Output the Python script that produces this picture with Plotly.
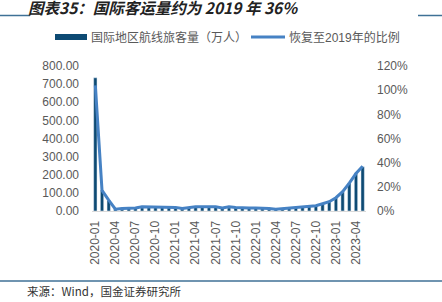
import plotly.graph_objects as go

months = [f"{y}-{m:02d}" for y in (2020, 2021, 2022, 2023) for m in range(1, 13)][:41]

passengers = [735, 115, 58, 12, 13, 15, 17, 18, 19, 20, 20, 20,
              17, 14, 18, 19, 20, 19, 21, 17, 18, 19, 18, 19,
              17, 14, 13, 11, 13, 15, 20, 24, 26, 29, 38, 51,
              72, 106, 155, 210, 244]

recovery = [104, 17, 9, 1.5, 2, 2, 2.5, 3.5, 3.5, 3.5, 3.5, 3.5,
            3, 2, 3, 3.5, 3.5, 3.5, 3.5, 2.5, 3.5, 3, 2.5, 2.5,
            2.5, 2.5, 2, 1.5, 2, 2.5, 3, 3.5, 4, 4.4, 6, 7.7,
            11, 16, 23, 31, 37]

tick_labels = months[::3]
series_names = ["国际地区航线旅客量（万人）", "恢复至2019年的比例"]

bar_color = "#0d4a73"
line_color = "#4682c4"
text_color = "#595959"
font_family = "Liberation Sans, Noto Sans CJK SC, sans-serif"

L, R, T, B = 92, 366, 66, 211
W, H = R - L, B - T


def px(x):
    return (x - L) / W


def py(y):
    return (B - y) / H


fig = go.Figure()
fig.add_trace(go.Bar(x=months, y=passengers, marker_color=bar_color,
                     name=series_names[0], showlegend=False))
fig.add_trace(go.Scatter(x=months, y=recovery, yaxis="y2", mode="lines",
                         line=dict(color=line_color, width=3),
                         name=series_names[1], showlegend=False))

fig.update_layout(
    width=442, height=302,
    margin=dict(l=L, r=442 - R, t=T, b=302 - B),
    paper_bgcolor="white", plot_bgcolor="white",
    font=dict(family=font_family, size=12, color=text_color),
    bargap=0.5,
    showlegend=False,
    xaxis=dict(type="category", categoryorder="array", categoryarray=months,
               tickmode="array", tickvals=tick_labels, ticktext=tick_labels,
               tickangle=-90, tickfont=dict(size=12), ticklabelstandoff=4,
               showgrid=False, showline=True, linecolor="#d9d9d9",
               ticks="", zeroline=False),
    yaxis=dict(range=[0, 800], dtick=100, tickformat=".2f",
               showgrid=False, zeroline=False, ticks="", showline=False,
               tickfont=dict(size=12), ticklabelstandoff=12),
    yaxis2=dict(range=[0, 120], dtick=20, ticksuffix="%", overlaying="y",
                side="right", showgrid=False, zeroline=False, ticks="",
                tickfont=dict(size=12), ticklabelstandoff=10),
)

# legend (drawn manually to match the reference layout)
fig.add_shape(type="line", xref="paper", yref="paper",
              x0=px(55), x1=px(87), y0=py(37), y1=py(37),
              line=dict(color=bar_color, width=6))
fig.add_annotation(text=series_names[0], xref="paper", yref="paper",
                   x=px(89), y=py(37.5), xanchor="left", yanchor="middle",
                   showarrow=False, font=dict(size=12, color=text_color))
fig.add_shape(type="line", xref="paper", yref="paper",
              x0=px(251), x1=px(285), y0=py(37), y1=py(37),
              line=dict(color=line_color, width=3))
fig.add_annotation(text=series_names[1], xref="paper", yref="paper",
                   x=px(287), y=py(37.5), xanchor="left", yanchor="middle",
                   showarrow=False, font=dict(size=12, color=text_color))

fig.add_annotation(text="<b><i>图表35：国际客运量约为 2019 年 36%</i></b>",
                   xref="paper", yref="paper", x=px(26), y=py(7.5),
                   xanchor="left", yanchor="middle", showarrow=False,
                   font=dict(size=15.5, color="#222222", family="Noto Sans CJK SC"))
fig.add_annotation(text="来源：Wind，国金证券研究所",
                   xref="paper", yref="paper", x=px(25), y=py(291),
                   xanchor="left", yanchor="middle", showarrow=False,
                   font=dict(size=11.5, color="#333333", family="Noto Sans CJK SC"))

for x0, x1 in ((0, 30), (418, 442)):
    fig.add_shape(type="line", xref="paper", yref="paper",
                  x0=px(x0), x1=px(x1), y0=py(15.5), y1=py(15.5),
                  line=dict(color="#3f7196", width=1.5))
fig.add_shape(type="line", xref="paper", yref="paper",
              x0=px(0), x1=px(442), y0=py(281), y1=py(281),
              line=dict(color="#3f7196", width=1.5))

fig.write_html("out.html")
